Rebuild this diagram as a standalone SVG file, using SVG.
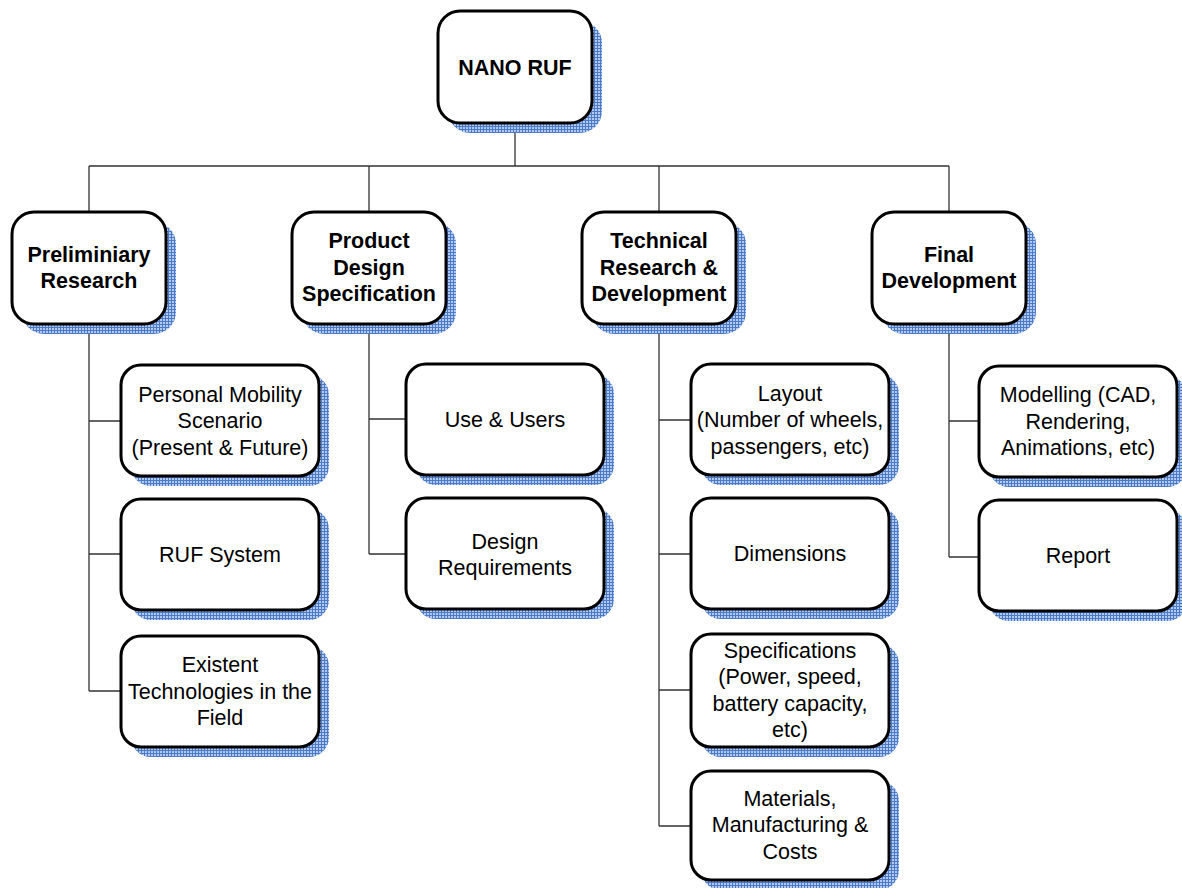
<svg xmlns="http://www.w3.org/2000/svg" width="1182" height="888" viewBox="0 0 1182 888">
<defs>
<pattern id="grid" width="3" height="3" patternUnits="userSpaceOnUse">
<rect width="3" height="3" fill="#b3c9ee"/>
<path d="M0 0.5H3M0.5 0V3" stroke="#4b7bc8" stroke-width="1"/>
</pattern>
<style>
.box{fill:#ffffff;stroke:#000000;stroke-width:3}
.sh{fill:url(#grid)}
.t{font-family:"Liberation Sans",Arial,sans-serif;font-size:21.5px;fill:#000;text-anchor:middle}
.b{font-weight:bold}
.c{fill:none;stroke:#333333;stroke-width:1.3}
</style>
</defs>
<rect width="1182" height="888" fill="#ffffff"/>
<g id="connectors">
<path class="c" d="M515 122V166M89 166H949M89 166V212M369 166V212M659 166V212M949 166V212"/>
<path class="c" d="M89 324V691M89 421H121M89 554H121M89 691H121"/>
<path class="c" d="M369 324V554M369 419H406M369 554H406"/>
<path class="c" d="M659 324V826M659 420H691M659 554H691M659 690H691M659 826H691"/>
<path class="c" d="M949 324V557M949 421H979M949 557H979"/>
</g>
<g id="n0">
<rect class="sh" x="448" y="21" width="154" height="112" rx="22"/>
<rect class="box" x="438" y="11" width="154" height="112" rx="22"/>
<text class="t b" x="515" y="75">NANO RUF</text>
</g>
<g id="n1">
<rect class="sh" x="22" y="222" width="154" height="112" rx="22"/>
<rect class="box" x="12" y="212" width="154" height="112" rx="22"/>
<text class="t b" x="89" y="262">Preliminiary</text>
<text class="t b" x="89" y="288">Research</text>
</g>
<g id="n2">
<rect class="sh" x="302" y="222" width="154" height="112" rx="22"/>
<rect class="box" x="292" y="212" width="154" height="112" rx="22"/>
<text class="t b" x="369" y="248">Product</text>
<text class="t b" x="369" y="275">Design</text>
<text class="t b" x="369" y="301">Specification</text>
</g>
<g id="n3">
<rect class="sh" x="592" y="222" width="154" height="112" rx="22"/>
<rect class="box" x="582" y="212" width="154" height="112" rx="22"/>
<text class="t b" x="659" y="248">Technical</text>
<text class="t b" x="659" y="275">Research &amp;</text>
<text class="t b" x="659" y="301">Development</text>
</g>
<g id="n4">
<rect class="sh" x="882" y="222" width="154" height="112" rx="22"/>
<rect class="box" x="872" y="212" width="154" height="112" rx="22"/>
<text class="t b" x="949" y="262">Final</text>
<text class="t b" x="949" y="288">Development</text>
</g>
<g id="n11">
<rect class="sh" x="131" y="375" width="198" height="111" rx="20"/>
<rect class="box" x="121" y="365" width="198" height="111" rx="20"/>
<text class="t" x="220" y="402">Personal Mobility</text>
<text class="t" x="220" y="428">Scenario</text>
<text class="t" x="220" y="455">(Present &amp; Future)</text>
</g>
<g id="n12">
<rect class="sh" x="131" y="509" width="198" height="111" rx="20"/>
<rect class="box" x="121" y="499" width="198" height="111" rx="20"/>
<text class="t" x="220" y="562">RUF System</text>
</g>
<g id="n13">
<rect class="sh" x="131" y="646" width="198" height="111" rx="20"/>
<rect class="box" x="121" y="636" width="198" height="111" rx="20"/>
<text class="t" x="220" y="672">Existent</text>
<text class="t" x="220" y="699">Technologies in the</text>
<text class="t" x="220" y="725">Field</text>
</g>
<g id="n21">
<rect class="sh" x="416" y="374" width="198" height="111" rx="20"/>
<rect class="box" x="406" y="364" width="198" height="111" rx="20"/>
<text class="t" x="505" y="427">Use &amp; Users</text>
</g>
<g id="n22">
<rect class="sh" x="416" y="508" width="198" height="111" rx="20"/>
<rect class="box" x="406" y="498" width="198" height="111" rx="20"/>
<text class="t" x="505" y="549">Design</text>
<text class="t" x="505" y="575">Requirements</text>
</g>
<g id="n31">
<rect class="sh" x="701" y="374" width="198" height="111" rx="20"/>
<rect class="box" x="691" y="364" width="198" height="111" rx="20"/>
<text class="t" x="790" y="401">Layout</text>
<text class="t" x="790" y="427">(Number of wheels,</text>
<text class="t" x="790" y="454">passengers, etc)</text>
</g>
<g id="n32">
<rect class="sh" x="701" y="508" width="198" height="111" rx="20"/>
<rect class="box" x="691" y="498" width="198" height="111" rx="20"/>
<text class="t" x="790" y="561">Dimensions</text>
</g>
<g id="n33">
<rect class="sh" x="701" y="644" width="198" height="113" rx="20"/>
<rect class="box" x="691" y="634" width="198" height="113" rx="20"/>
<text class="t" x="790" y="658">Specifications</text>
<text class="t" x="790" y="684">(Power, speed,</text>
<text class="t" x="790" y="711">battery capacity,</text>
<text class="t" x="790" y="737">etc)</text>
</g>
<g id="n34">
<rect class="sh" x="701" y="781" width="198" height="109" rx="20"/>
<rect class="box" x="691" y="771" width="198" height="109" rx="20"/>
<text class="t" x="790" y="806">Materials,</text>
<text class="t" x="790" y="832">Manufacturing &amp;</text>
<text class="t" x="790" y="859">Costs</text>
</g>
<g id="n41">
<rect class="sh" x="989" y="376" width="198" height="111" rx="20"/>
<rect class="box" x="979" y="366" width="198" height="111" rx="20"/>
<text class="t" x="1078" y="402">Modelling (CAD,</text>
<text class="t" x="1078" y="429">Rendering,</text>
<text class="t" x="1078" y="455">Animations, etc)</text>
</g>
<g id="n42">
<rect class="sh" x="989" y="510" width="198" height="111" rx="20"/>
<rect class="box" x="979" y="500" width="198" height="111" rx="20"/>
<text class="t" x="1078" y="563">Report</text>
</g>
</svg>
